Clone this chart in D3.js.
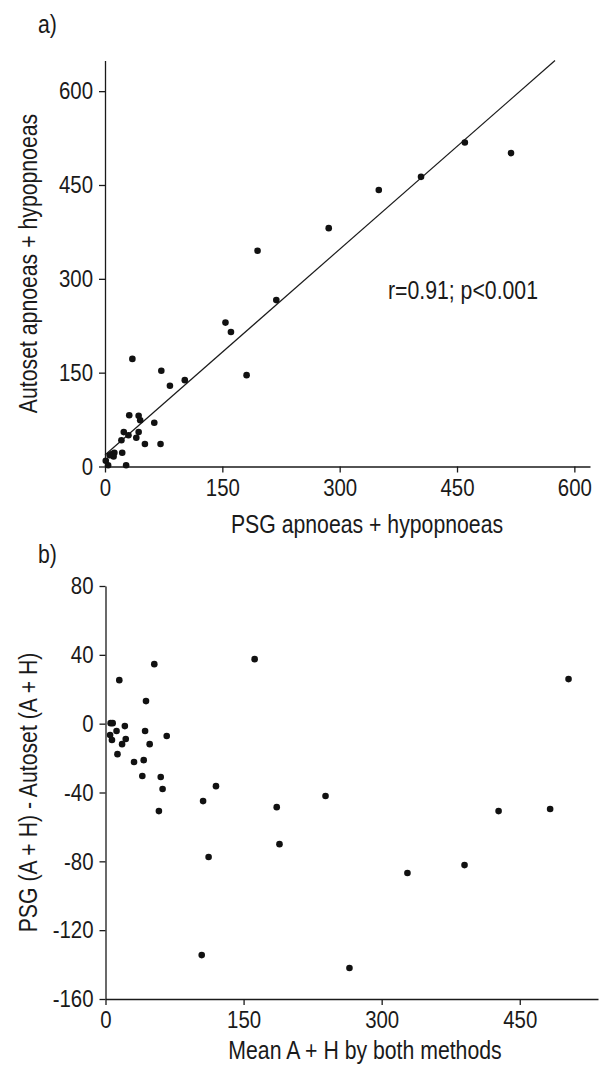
<!DOCTYPE html>
<html>
<head>
<meta charset="utf-8">
<script src="https://cdn.jsdelivr.net/npm/d3@7"></script>
<style>
  body { margin: 0; background: #fff; }
  svg text { font-family: "Liberation Sans", Arial, sans-serif; fill: #1a1a1a; }
</style>
</head>
<body>
<div id="chart"></div>
<script>
// panel a: PSG vs Autoset apnoeas + hypopnoeas
const psgA = [460, 519, 404, 350, 286, 195, 219, 154, 161, 181, 35, 72, 83, 102, 31, 43, 45, 63,
  24, 43, 30, 40, 21, 51, 71, 22, 9, 12, 11, 6, 27, 1, 4]
const autoA = [518, 501, 463, 442, 381, 345, 266, 230, 215, 146, 172, 153, 129, 138, 82, 81, 74, 70,
  55, 55, 50, 46, 42, 36, 36, 22, 20, 22, 16, 18, 2, 9, 2]
const ticksA = [0, 150, 300, 450, 600]
const fitA = { intercept: 18.5, slope: 1.096 }

// panel b: Bland-Altman
const meanB = [162, 53, 15, 44, 5.6, 7.8, 12, 21, 43, 5, 7, 22, 18, 48, 66.5, 13, 31, 41.5, 40, 60,
  62, 120, 106, 58, 186, 112, 189, 328, 390, 104.5, 265, 503, 239, 427, 483]
const diffB = [37.5, 34.6, 25.3, 13.1, 0.3, 0.3, -4.3, -1.4, -4.3, -6.6, -9.5, -8.9, -11.9, -11.9, -7.2,
  -17.7, -22.3, -21.2, -30.4, -31, -38, -36.3, -45, -50.8, -48.5, -77.5, -70, -86.8, -82.2, -134.5,
  -142, 25.9, -42, -50.8, -49.6]
const ticksBx = [0, 150, 300, 450]
const ticksBy = [80, 40, 0, -40, -80, -120, -160]

// the original face is a condensed sans, squeeze Liberation Sans horizontally
const squeeze = 0.85

const svg = d3.select('#chart').append('svg')
  .attr('width', 605)
  .attr('height', 1068)

function styleAxis(g) {
  g.selectAll('path, line').attr('stroke', '#1a1a1a').attr('stroke-width', 1.3)
  g.selectAll('text')
    .style('font-size', '24px')
    .attr('fill', '#1a1a1a')
    .attr('x', function() { return +d3.select(this).attr('x') / squeeze })
    .attr('transform', `scale(${squeeze},1)`)
}

function label(x, y, txt, rotate, anchor) {
  return svg.append('text')
    .attr('transform', `translate(${x}, ${y})${rotate ? ' rotate(-90)' : ''} scale(${squeeze},1)`)
    .style('text-anchor', anchor || 'middle')
    .style('font-size', '25px')
    .text(txt)
}

const fmt = d => String(d)

/* ---- panel a ---- */
let xA = d3.scaleLinear().domain([0, 620]).range([105, 590])
let yA = d3.scaleLinear().domain([0, 649]).range([466.5, 60.5])

svg.append('g')
  .attr('transform', `translate(0, ${yA(0)})`)
  .call(d3.axisBottom(xA).tickValues(ticksA).tickFormat(fmt).tickSize(6).tickPadding(6).tickSizeOuter(0))
  .call(styleAxis)

svg.append('g')
  .attr('transform', `translate(${xA(0)}, 0)`)
  .call(d3.axisLeft(yA).tickValues(ticksA).tickFormat(fmt).tickSize(6).tickPadding(6).tickSizeOuter(0))
  .call(styleAxis)

// regression line
let xEnd = (yA.domain()[1] - fitA.intercept) / fitA.slope
svg.append('line')
  .attr('x1', xA(0)).attr('y1', yA(fitA.intercept))
  .attr('x2', xA(xEnd)).attr('y2', yA(fitA.intercept + fitA.slope * xEnd))
  .attr('stroke', '#1a1a1a')
  .attr('stroke-width', 1.2)

svg.append('g').selectAll('circle')
  .data(psgA)
  .enter()
  .append('circle')
  .attr('cx', d => xA(d))
  .attr('cy', (d, i) => yA(autoA[i]))
  .attr('r', 3.3)
  .attr('fill', '#111')

label(388, 299, 'r=0.91; p<0.001', false, 'start')
label(38, 33, 'a)', false, 'start')
label(367, 533, 'PSG apnoeas + hypopnoeas')
label(37, (yA(0) + yA(649)) / 2, 'Autoset apnoeas + hypopnoeas', true)

/* ---- panel b ---- */
let xB = d3.scaleLinear().domain([0, 535]).range([105.5, 598])
let yB = d3.scaleLinear().domain([-160, 80]).range([999, 586])

svg.append('g')
  .attr('transform', `translate(0, ${yB(-160)})`)
  .call(d3.axisBottom(xB).tickValues(ticksBx).tickFormat(fmt).tickSize(6).tickPadding(6).tickSizeOuter(0))
  .call(styleAxis)

svg.append('g')
  .attr('transform', `translate(${xB(0)}, 0)`)
  .call(d3.axisLeft(yB).tickValues(ticksBy).tickFormat(fmt).tickSize(6).tickPadding(6).tickSizeOuter(0))
  .call(styleAxis)

svg.append('g').selectAll('circle')
  .data(meanB)
  .enter()
  .append('circle')
  .attr('cx', d => xB(d))
  .attr('cy', (d, i) => yB(diffB[i]))
  .attr('r', 3.3)
  .attr('fill', '#111')

label(38, 563, 'b)', false, 'start')
label(365, 1059, 'Mean A + H by both methods')
label(37, (yB(80) + yB(-160)) / 2, 'PSG (A + H) - Autoset (A + H)', true)
</script>
</body>
</html>
